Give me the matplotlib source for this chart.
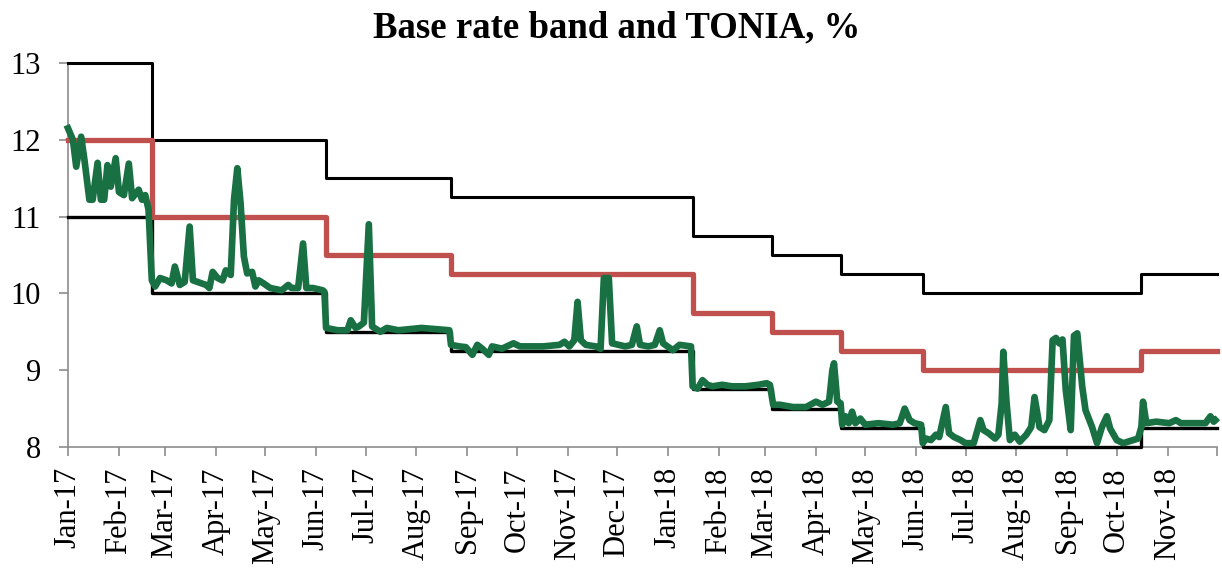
import pandas as pd
import matplotlib
matplotlib.use("Agg")
import matplotlib.pyplot as plt


# base rate and corridor, date of each change
rate_dates = [
    "2017-01-01", "2017-02-21", "2017-06-07", "2017-08-22", "2018-01-16",
    "2018-03-05", "2018-04-16", "2018-06-05", "2018-10-16", "2018-12-01"
]
base_rate = [12.0, 11.0, 10.5, 10.25, 9.75, 9.5, 9.25, 9.0, 9.25, 9.25]
upper_band = [13.0, 12.0, 11.5, 11.25, 10.75, 10.5, 10.25, 10.0, 10.25, 10.25]
lower_band = [11.0, 10.0, 9.5, 9.25, 8.75, 8.5, 8.25, 8.0, 8.25, 8.25]

# TONIA
tonia_dates = [
    "2017-01-01", "2017-01-04", "2017-01-06", "2017-01-09", "2017-01-11",
    "2017-01-14", "2017-01-16", "2017-01-19", "2017-01-21", "2017-01-23",
    "2017-01-25", "2017-01-27", "2017-01-30", "2017-02-01", "2017-02-04",
    "2017-02-07", "2017-02-09", "2017-02-13", "2017-02-15", "2017-02-17",
    "2017-02-19", "2017-02-21", "2017-02-23", "2017-02-26", "2017-03-02",
    "2017-03-05", "2017-03-07", "2017-03-10", "2017-03-13", "2017-03-16",
    "2017-03-18", "2017-03-26", "2017-03-28", "2017-03-30", "2017-04-02",
    "2017-04-05", "2017-04-07", "2017-04-10", "2017-04-12", "2017-04-14",
    "2017-04-16", "2017-04-18", "2017-04-20", "2017-04-23", "2017-04-25",
    "2017-04-27", "2017-04-30", "2017-05-04", "2017-05-11", "2017-05-15",
    "2017-05-17", "2017-05-21", "2017-05-24", "2017-05-26", "2017-05-30",
    "2017-06-05", "2017-06-06", "2017-06-07", "2017-06-14", "2017-06-20",
    "2017-06-22", "2017-06-25", "2017-06-27", "2017-06-30", "2017-07-03",
    "2017-07-05", "2017-07-10", "2017-07-14", "2017-07-21", "2017-08-04",
    "2017-08-21", "2017-08-22", "2017-08-27", "2017-08-31", "2017-09-04",
    "2017-09-07", "2017-09-10", "2017-09-14", "2017-09-16", "2017-09-22",
    "2017-09-29", "2017-10-03", "2017-10-17", "2017-10-27", "2017-10-30",
    "2017-11-02", "2017-11-05", "2017-11-07", "2017-11-09", "2017-11-12",
    "2017-11-18", "2017-11-21", "2017-11-23", "2017-11-26", "2017-11-28",
    "2017-12-06", "2017-12-10", "2017-12-13", "2017-12-15", "2017-12-20",
    "2017-12-24", "2017-12-27", "2017-12-29", "2018-01-04", "2018-01-08",
    "2018-01-15", "2018-01-16", "2018-01-19", "2018-01-22", "2018-01-25",
    "2018-01-28", "2018-02-03", "2018-02-09", "2018-02-17", "2018-02-25",
    "2018-03-02", "2018-03-04", "2018-03-06", "2018-03-10", "2018-03-18",
    "2018-03-26", "2018-04-01", "2018-04-05", "2018-04-09", "2018-04-11",
    "2018-04-12", "2018-04-14", "2018-04-16", "2018-04-17", "2018-04-19",
    "2018-04-21", "2018-04-23", "2018-04-25", "2018-04-28", "2018-05-01",
    "2018-05-09", "2018-05-18", "2018-05-22", "2018-05-25", "2018-05-28",
    "2018-05-31", "2018-06-04", "2018-06-05", "2018-06-07", "2018-06-10",
    "2018-06-13", "2018-06-15", "2018-06-19", "2018-06-21", "2018-06-24",
    "2018-06-28", "2018-07-01", "2018-07-06", "2018-07-10", "2018-07-12",
    "2018-07-15", "2018-07-19", "2018-07-21", "2018-07-23", "2018-07-24",
    "2018-07-26", "2018-07-28", "2018-07-31", "2018-08-03", "2018-08-07",
    "2018-08-10", "2018-08-12", "2018-08-14", "2018-08-15", "2018-08-18",
    "2018-08-21", "2018-08-23", "2018-08-25", "2018-08-27", "2018-08-29",
    "2018-08-31", "2018-09-03", "2018-09-05", "2018-09-07", "2018-09-10",
    "2018-09-12", "2018-09-16", "2018-09-19", "2018-09-22", "2018-09-25",
    "2018-09-27", "2018-10-01", "2018-10-05", "2018-10-11", "2018-10-14",
    "2018-10-16", "2018-10-17", "2018-10-19", "2018-10-25", "2018-11-02",
    "2018-11-06", "2018-11-09", "2018-11-20", "2018-11-24", "2018-11-27",
    "2018-11-29", "2018-11-30"
]
tonia = [
    12.15, 12.00, 11.65, 12.04, 11.74,
    11.22, 11.22, 11.70, 11.22, 11.22,
    11.67, 11.39, 11.76, 11.32, 11.28,
    11.69, 11.24, 11.35, 11.22, 11.28,
    11.09, 10.17, 10.09, 10.20, 10.17,
    10.13, 10.35, 10.11, 10.15, 10.87,
    10.17, 10.11, 10.07, 10.28, 10.20,
    10.17, 10.30, 10.24, 11.22, 11.63,
    11.17, 10.48, 10.26, 10.28, 10.09,
    10.17, 10.13, 10.07, 10.04, 10.11,
    10.07, 10.07, 10.65, 10.07, 10.07,
    10.04, 10.02, 9.55, 9.52, 9.52,
    9.65, 9.55, 9.57, 9.62, 10.90,
    9.57, 9.50, 9.55, 9.52, 9.55,
    9.52, 9.33, 9.31, 9.30, 9.20,
    9.33, 9.28, 9.20, 9.31, 9.28,
    9.35, 9.31, 9.31, 9.33, 9.37,
    9.31, 9.39, 9.89, 9.39, 9.33,
    9.31, 9.28, 10.20, 10.20, 9.35,
    9.31, 9.33, 9.57, 9.33, 9.31,
    9.33, 9.52, 9.35, 9.26, 9.33,
    9.31, 8.79, 8.76, 8.87, 8.81,
    8.79, 8.81, 8.79, 8.79, 8.81,
    8.83, 8.81, 8.55, 8.55, 8.52,
    8.52, 8.59, 8.55, 8.59, 9.00,
    9.09, 8.59, 8.57, 8.29, 8.40,
    8.31, 8.46, 8.31, 8.37, 8.29,
    8.31, 8.29, 8.31, 8.50, 8.35,
    8.31, 8.29, 8.05, 8.11, 8.09,
    8.16, 8.13, 8.52, 8.18, 8.13,
    8.09, 8.05, 8.05, 8.35, 8.22,
    8.18, 8.11, 8.16, 8.57, 9.24,
    8.57, 8.09, 8.16, 8.07, 8.16,
    8.26, 8.65, 8.40, 8.26, 8.22,
    8.35, 9.39, 9.42, 9.35, 9.40,
    8.74, 8.22, 9.45, 9.48, 8.79,
    8.48, 8.26, 8.05, 8.26, 8.40,
    8.24, 8.09, 8.05, 8.09, 8.11,
    8.26, 8.59, 8.31, 8.33, 8.31,
    8.35, 8.31, 8.31, 8.31, 8.40,
    8.33, 8.35
]

month_labels = [
    "Jan-17", "Feb-17", "Mar-17", "Apr-17", "May-17", "Jun-17", "Jul-17",
    "Aug-17", "Sep-17", "Oct-17", "Nov-17", "Dec-17", "Jan-18", "Feb-18",
    "Mar-18", "Apr-18", "May-18", "Jun-18", "Jul-18", "Aug-18", "Sep-18",
    "Oct-18", "Nov-18", ""
]
y_ticks = [8, 9, 10, 11, 12, 13]

plt.rcParams["font.family"] = ["Liberation Serif", "DejaVu Serif"]

rd = pd.to_datetime(rate_dates)
td = pd.to_datetime(tonia_dates)
month_ticks = pd.date_range("2017-01-01", periods=len(month_labels), freq="MS")

fig = plt.figure(figsize=(12.22, 5.68), dpi=100)
ax = fig.add_axes([68 / 1222, 1 - 447 / 568, (1217 - 68) / 1222, (447 - 63) / 568])

ax.step(rd, upper_band, where="post", color="black", linewidth=2.2,
        zorder=3, clip_on=False)
ax.step(rd, lower_band, where="post", color="black", linewidth=2.4,
        zorder=3, clip_on=False)
ax.step(rd, base_rate, where="post", color="#C0504D", linewidth=3.8,
        zorder=4, clip_on=False)
ax.plot(td, tonia, color="#187043", linewidth=4.8, zorder=5,
        solid_joinstyle="round", clip_on=False)

ax.set_xlim(month_ticks[0], month_ticks[-1])
ax.set_ylim(8, 13)
ax.set_yticks(y_ticks)
ax.set_yticklabels([str(v) for v in y_ticks])
ax.set_xticks(month_ticks)
ax.set_xticklabels(month_labels, rotation=90)

for side in ["top", "right"]:
    ax.spines[side].set_visible(False)
for side in ["left", "bottom"]:
    ax.spines[side].set_color("#8c8c8c")
    ax.spines[side].set_linewidth(1.2)

ax.tick_params(axis="y", length=6.5, width=1.2, color="#8c8c8c",
               labelsize=22, pad=13)
ax.tick_params(axis="x", length=6.5, width=1.2, color="#8c8c8c",
               labelsize=22, pad=8)

fig.text(617 / 1222, 1 - 37 / 568, "Base rate band and TONIA, %",
         ha="center", va="baseline", fontsize=26.5, fontweight="bold")

fig.savefig("out.png", dpi=100)
